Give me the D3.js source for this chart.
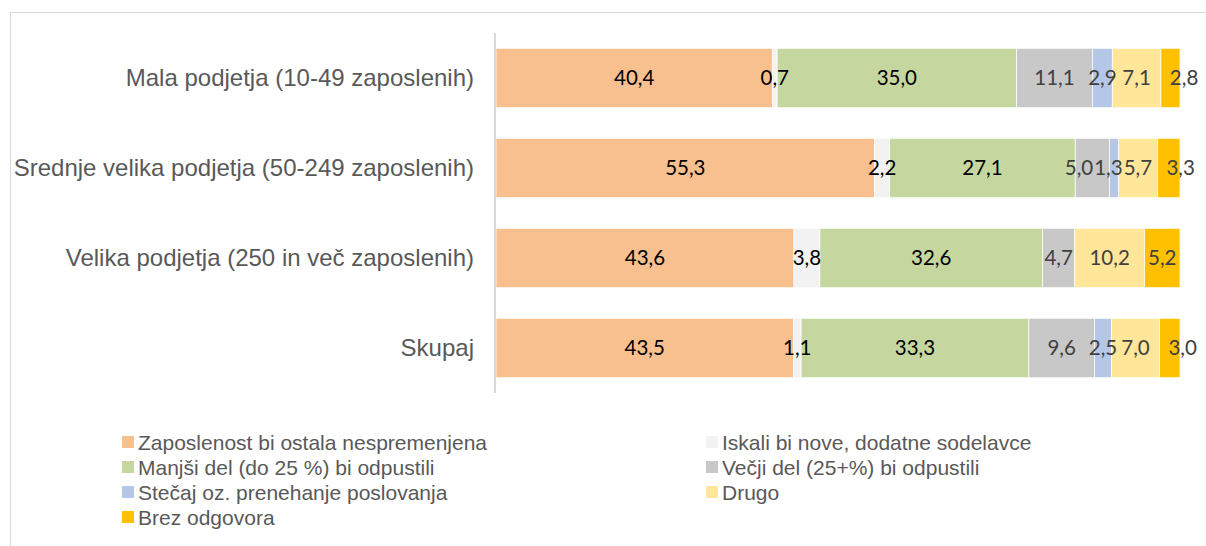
<!DOCTYPE html>
<html>
<head>
<meta charset="utf-8">
<script src="https://cdn.jsdelivr.net/npm/d3@7"></script>
<style>
  html, body { margin: 0; padding: 0; background: #fff; }
  svg { display: block; }
</style>
</head>
<body>
<svg id="chart" width="1206" height="546"></svg>
<script>
// categories (top to bottom)
var categories = [
    'Mala podjetja (10-49 zaposlenih)',
    'Srednje velika podjetja (50-249 zaposlenih)',
    'Velika podjetja (250 in več zaposlenih)',
    'Skupaj'
];

// series names, in stacking order
var seriesNames = [
    'Zaposlenost bi ostala nespremenjena',
    'Iskali bi nove, dodatne sodelavce',
    'Manjši del (do 25 %) bi odpustili',
    'Večji del (25+%) bi odpustili',
    'Stečaj oz. prenehanje poslovanja',
    'Drugo',
    'Brez odgovora'
];

// one array of values per series, same order as categories
var nespremenjena = [40.4, 55.3, 43.6, 43.5];
var noviSodelavci = [0.7, 2.2, 3.8, 1.1];
var manjsiDel     = [35.0, 27.1, 32.6, 33.3];
var vecjiDel      = [11.1, 5.0, 4.7, 9.6];
var stecaj        = [2.9, 1.3, 0, 2.5];
var drugo         = [7.1, 5.7, 10.2, 7.0];
var brezOdgovora  = [2.8, 3.3, 5.2, 3.0];

var seriesValues = [nespremenjena, noviSodelavci, manjsiDel, vecjiDel, stecaj, drugo, brezOdgovora];

var colors = ['#F8BF8F', '#F2F2F2', '#C5D79F', '#C8C8C8', '#B4C7E7', '#FFE699', '#FFC000'];
var labelColors = ['#000', '#000', '#000', '#404040', '#404040', '#404040', '#404040'];

var svg = d3.select('#chart');

// chart frame (only top and left edges are visible in the crop)
svg.append('rect')
    .attr('x', 10.5).attr('y', 12.5)
    .attr('width', 1300).attr('height', 600)
    .attr('fill', 'none')
    .attr('stroke', '#d9d9d9');

var rows = categories.map(function (c, i) {
    var r = { cat: c };
    seriesNames.forEach(function (s, j) { r[s] = seriesValues[j][i]; });
    return r;
});

var stacked = d3.stack()
    .keys(seriesNames)
    .offset(d3.stackOffsetExpand)(rows);

var x = d3.scaleLinear().domain([0, 1]).range([496, 1180]);
var y = d3.scaleBand().domain(categories).range([33, 393]).paddingInner(0.34).paddingOuter(0.17);

var layers = svg.append('g').selectAll('g')
    .data(stacked)
    .enter().append('g')
    .attr('fill', function (d, i) { return colors[i]; });

layers.selectAll('rect')
    .data(function (d) { return d; })
    .enter().append('rect')
    .attr('x', function (d) { return x(d[0]); })
    .attr('y', function (d) { return y(d.data.cat); })
    .attr('width', function (d) { return x(d[1]) - x(d[0]); })
    .attr('height', y.bandwidth())
    .attr('stroke', '#fff')
    .attr('stroke-width', 0.75);

var fmt = function (v) { return v.toFixed(1).replace('.', ','); };

// value labels, one row at a time so that crowded labels can be pushed apart
var labelG = svg.append('g');
var last = seriesNames.length - 1;

categories.forEach(function (cat, ci) {
    var items = [];
    stacked.forEach(function (layer, si) {
        var d = layer[ci];
        var v = d.data[layer.key];
        if (!(v > 0)) return;
        var t = labelG.append('text')
            .attr('y', y(cat) + y.bandwidth() / 2)
            .attr('dy', '0.36em')
            .attr('text-anchor', 'middle')
            .attr('font-family', 'Lato, "Open Sans", sans-serif')
            .attr('font-size', 20.5)
            .attr('fill', labelColors[si])
            .text(fmt(v));
        var w = t.node().getComputedTextLength();
        var x0 = x(d[0]), x1 = x(d[1]);
        var cx = (x0 + x1) / 2;
        // small last segment: label sits slightly to the right, past the bar end
        if (si === last && w > x1 - x0) cx = x0 + 9 + w / 2;
        items.push({ t: t, w: w, cx: cx });
    });
    // right-to-left sweep: a label that runs into its right neighbour moves left
    for (var i = items.length - 2; i >= 0; i--) {
        var a = items[i], b = items[i + 1];
        var limit = b.cx - b.w / 2 - 1;
        if (a.cx + a.w / 2 > limit) a.cx = limit - a.w / 2;
    }
    items.forEach(function (it) { it.t.attr('x', it.cx); });
});

// category axis
var yAxis = svg.append('g')
    .attr('transform', 'translate(495,0)')
    .call(d3.axisLeft(y).tickSize(0).tickPadding(21));
yAxis.select('.domain')
    .attr('d', 'M0,33V393')
    .attr('stroke', '#d9d9d9')
    .attr('stroke-width', 2);
yAxis.selectAll('text')
    .attr('font-family', '"Liberation Sans", Arial, sans-serif')
    .attr('font-size', 24)
    .attr('fill', '#595959');

// legend, two columns
var legend = svg.append('g').selectAll('g')
    .data(seriesNames)
    .enter().append('g')
    .attr('transform', function (d, i) {
        var col = i % 2, row = Math.floor(i / 2);
        return 'translate(' + (col ? 706 : 122) + ',' + (442 + row * 25) + ')';
    });

legend.append('rect')
    .attr('x', 0).attr('y', -6)
    .attr('width', 12).attr('height', 12)
    .attr('fill', function (d, i) { return colors[i]; });

legend.append('text')
    .attr('x', 16)
    .attr('dy', '0.36em')
    .attr('font-family', '"Liberation Sans", Arial, sans-serif')
    .attr('font-size', 21)
    .attr('fill', '#595959')
    .text(function (d) { return d; });
</script>
</body>
</html>
